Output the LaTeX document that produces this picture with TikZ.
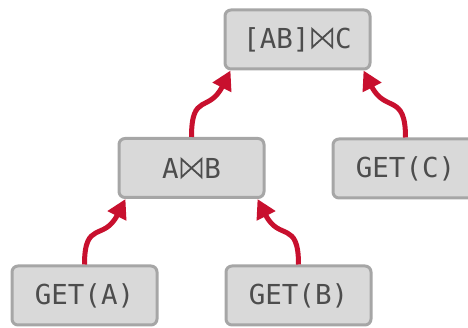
\documentclass[tikz,border=0pt]{standalone}
\usepackage{fontspec}
\setmonofont{DejaVu Sans Mono}
\usetikzlibrary{arrows.meta,calc}

\definecolor{boxfill}{HTML}{D9D9D9}
\definecolor{boxline}{HTML}{A6A6A6}
\definecolor{boxtext}{HTML}{4D4D4D}
\definecolor{flowred}{HTML}{C8102E}

% join symbol: two outlined triangles meeting in the middle
\newcommand{\joinsym}{\hspace{2pt}\tikz[baseline=0pt]
  \draw[boxtext, sharp corners, line width=1.8pt, line join=miter]
    (0pt,0.9pt) -- (0pt,19pt) -- (20pt,0.9pt) -- (20pt,19pt) -- cycle;\hspace{2pt}}

\tikzset{
  opbox/.style={draw=boxline, fill=boxfill, line width=3pt, rounded corners=6pt,
    minimum width=145pt, minimum height=59pt, inner sep=0pt,
    text=boxtext, font=\ttfamily\fontsize{27.5}{30}\selectfont},
  flow/.style={draw=flowred, line width=5pt,
    -{Triangle[length=19pt,width=20pt]}}
}

\begin{document}
\begin{tikzpicture}[x=1pt,y=1pt]
\useasboundingbox (0,0) rectangle (468,328);
\clip (0,0) rectangle (468,328);

% operator boxes
\node[opbox] (abc) at (297.5,288.5) {[AB]\joinsym C};
\node[opbox] (ab)  at (191.5,160) {A\joinsym B};
\node[opbox] (gc)  at (405.5,159.5) {GET(C)};
\node[opbox] (ga)  at (84.5,32.5) {GET(A)};
\node[opbox] (gb)  at (298.5,32.5) {GET(B)};

% data flow upwards
\draw[flow] (ga.north) .. controls +(90:45) and +(243:48) .. ($(ab.south west)+(8,0)$);
\draw[flow] (gb.north) .. controls +(90:45) and +(297:48) .. ($(ab.south east)+(-8,0)$);
\draw[flow] (ab.north) .. controls +(90:45) and +(243:48) .. ($(abc.south west)+(7,0)$);
\draw[flow] (gc.north) .. controls +(90:45) and +(297:48) .. ($(abc.south east)+(-8,0)$);
\end{tikzpicture}
\end{document}
